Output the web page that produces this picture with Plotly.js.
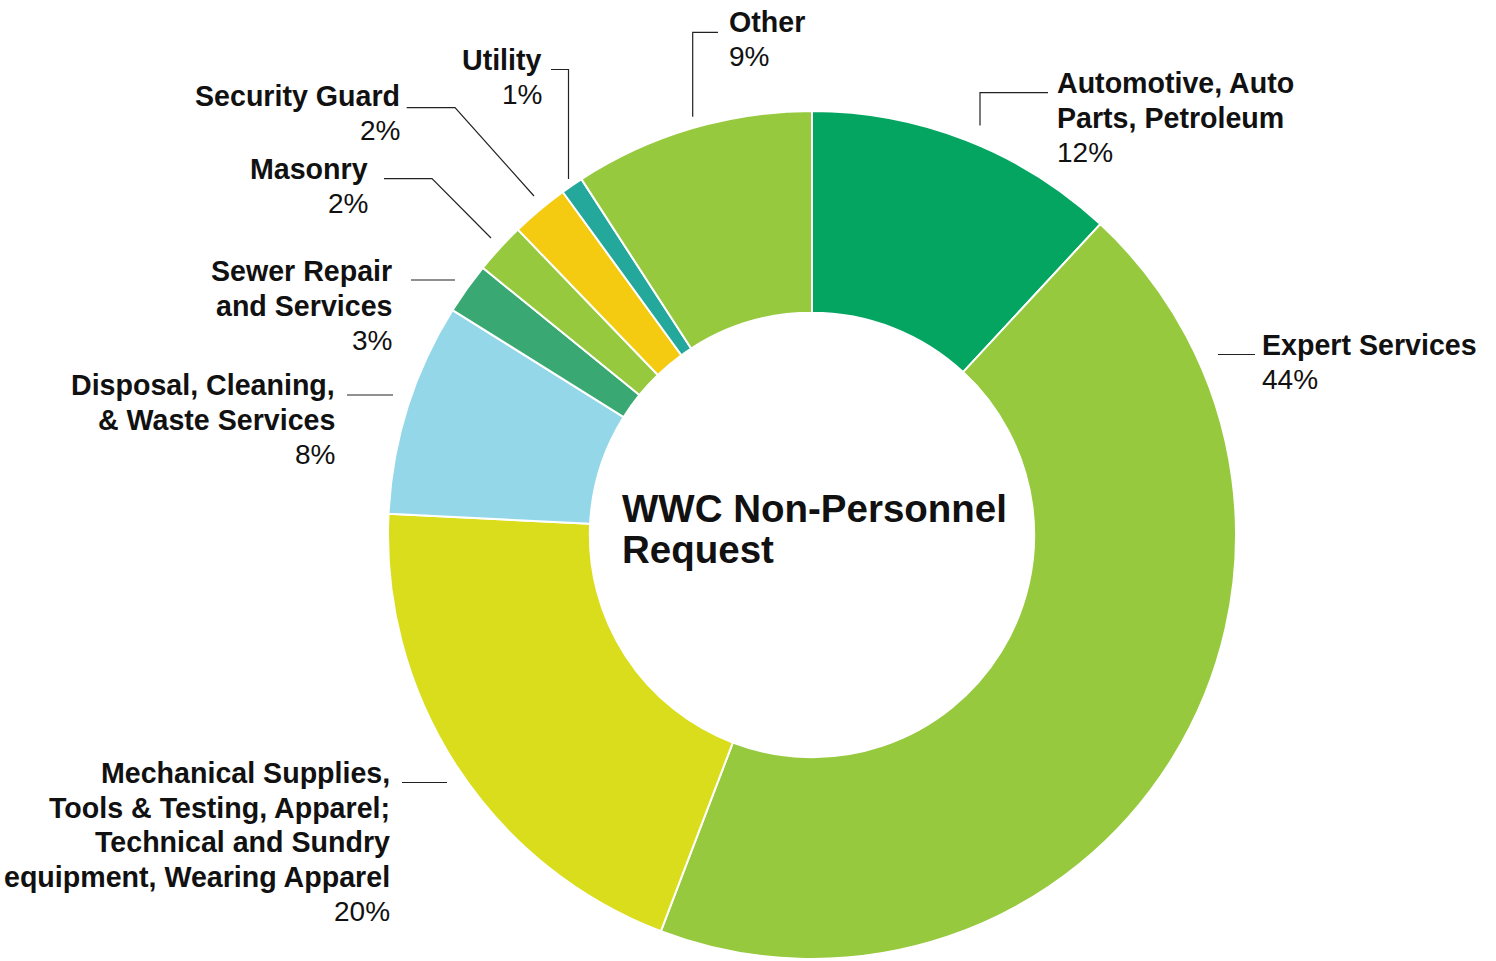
<!DOCTYPE html>
<html><head><meta charset="utf-8">
<script src="https://cdn.plot.ly/plotly-3.0.1.min.js"></script>
<style>html,body{margin:0;padding:0;background:#fff}#chart{width:1496px;height:961px}</style>
</head><body><div id="chart"></div>
<script>
// ---- data ----
const categories = ["Automotive, Auto Parts, Petroleum", "Expert Services",
  "Mechanical Supplies, Tools & Testing, Apparel; Technical and Sundry equipment, Wearing Apparel",
  "Disposal, Cleaning, & Waste Services", "Sewer Repair and Services", "Masonry",
  "Security Guard", "Utility", "Other"];
const shares = [11.9, 43.9, 20.0, 8.1, 1.95, 1.95, 2.2, 0.85, 9.15];
const pctLabels = ["12%", "44%", "20%", "8%", "3%", "2%", "2%", "1%", "9%"];
const labelLines = [
  ["Automotive, Auto", "Parts, Petroleum"],
  ["Expert Services"],
  ["Mechanical Supplies,", "Tools & Testing, Apparel;", "Technical and Sundry", "equipment, Wearing Apparel"],
  ["Disposal, Cleaning,", "& Waste Services"],
  ["Sewer Repair", "and Services"],
  ["Masonry"],
  ["Security Guard"],
  ["Utility"],
  ["Other"]
];
const centerTitle = ["WWC Non-Personnel", "Request"];

// ---- styles / layout ----
const colors = ["#04A561", "#96C93D", "#D9DD1C", "#94D7E9", "#3AA872", "#96C93D", "#F5CB12", "#24A89C", "#96C93D"];
const W = 1496, H = 961;
const px = x => x / W, py = y => 1 - y / H;
const CX = 812, CY = 535, R = 424;
const FONT = "Liberation Sans, Arial, Helvetica, sans-serif";
const LS = 34.5, FSB = 28.6, FSR = 28;

const labelPos = [
  {x: 1056, b: 93, side: 'left'},
  {x: 1261, b: 355, side: 'left'},
  {x: 391, b: 783, side: 'right'},
  {x: 335.5, b: 395, side: 'right'},
  {x: 393, b: 281, side: 'right'},
  {x: 368.5, b: 178.5, side: 'right'},
  {x: 400.5, b: 105.5, side: 'right'},
  {x: 542.5, b: 70, side: 'right'},
  {x: 728, b: 31.5, side: 'left'}
];
const leaders = [
  [[1048, 92.7], [980, 92.7], [980, 125.5]],
  [[1218, 354.5], [1255, 354.5]],
  [[402, 782.5], [447, 782.5]],
  [[347, 395], [393, 395]],
  [[411, 280], [455, 280]],
  [[384, 178.7], [432, 178.7], [491, 238]],
  [[406.7, 107.7], [455, 107.7], [534, 196]],
  [[551, 69.5], [568.5, 69.5], [568.5, 179]],
  [[718, 32.3], [692.7, 32.3], [692.7, 116.7]]
];

const annotations = [];
const BOFF = 0.34; // baseline offset from middle, in em
labelLines.forEach((lines, i) => {
  const p = labelPos[i];
  const all = lines.map(t => ({t: '<b>' + t + '</b>', s: FSB})).concat([{t: pctLabels[i], s: FSR}]);
  all.forEach((o, k) => {
    const base = p.b + k * LS;
    annotations.push({
      xref: 'paper', yref: 'paper', x: px(p.x), y: py(base - BOFF * o.s),
      xanchor: p.side, yanchor: 'middle', showarrow: false, text: o.t,
      font: {family: FONT, size: o.s, color: '#111'}, borderpad: 0
    });
  });
});
const TFS = 38.5;
[522, 563].forEach((b, k) => {
  annotations.push({
    xref: 'paper', yref: 'paper', x: px(621), y: py(b - BOFF * TFS),
    xanchor: 'left', yanchor: 'middle', showarrow: false,
    text: '<b>' + centerTitle[k] + '</b>',
    font: {family: FONT, size: TFS, color: '#111'}, borderpad: 0
  });
});

const shapes = leaders.map(pts => ({
  type: 'path', xref: 'paper', yref: 'paper',
  path: pts.map((p, k) => (k ? 'L' : 'M') + px(p[0]) + ',' + py(p[1])).join(' '),
  line: {color: '#222', width: 1.2}
}));

const trace = {
  type: 'pie', labels: categories, values: shares, sort: false,
  direction: 'clockwise', rotation: 0, hole: 0.524,
  textinfo: 'none', hoverinfo: 'label+percent', showlegend: false,
  marker: {colors: colors, line: {color: '#ffffff', width: 2}},
  domain: {x: [px(CX - R), px(CX + R)], y: [py(CY + R), py(CY - R)]}
};

Plotly.newPlot('chart', [trace], {
  width: W, height: H, margin: {l: 0, r: 0, t: 0, b: 0},
  paper_bgcolor: '#fff', plot_bgcolor: '#fff', showlegend: false,
  annotations: annotations, shapes: shapes
}, {displayModeBar: false, staticPlot: true});
</script></body></html>
